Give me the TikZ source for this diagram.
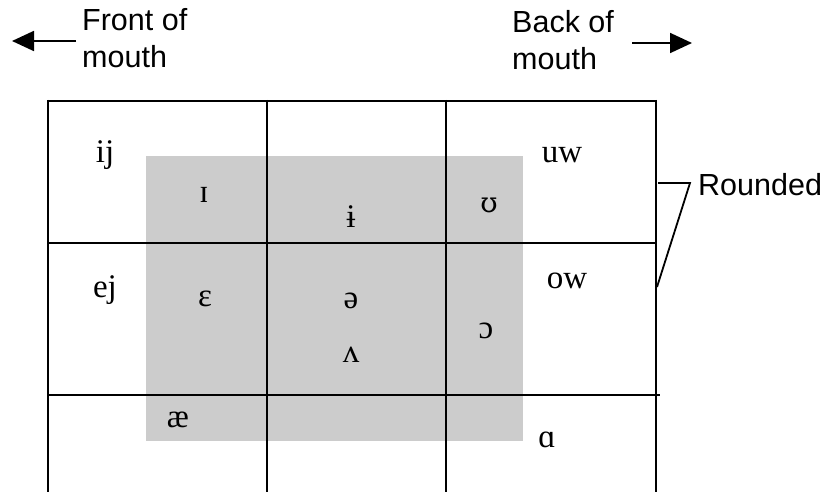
\documentclass[tikz,border=0pt]{standalone}
\usepackage{fontspec}
\setmainfont{Liberation Serif}
\newfontfamily\arialfont{Liberation Sans}
\newfontfamily\ipafont{DejaVu Serif}
\usetikzlibrary{arrows.meta}
\begin{document}
\begin{tikzpicture}[x=1pt,y=-1pt,
  gridline/.style={line width=1.8pt},
  vowel/.style={anchor=base,inner sep=0pt,font=\fontsize{33}{40}\selectfont},
  label/.style={anchor=base west,inner sep=0pt,align=left,font=\arialfont\fontsize{30.5}{37}\selectfont},
  dirarrow/.style={line width=1.8pt,-{Triangle[length=22pt,width=20pt]}},
  bracket/.style={line width=1.8pt}]
\useasboundingbox (0,0) rectangle (828,492);
% shaded region
\fill[black!20] (146,156) rectangle (523,441);
% grid
\draw[gridline] (48,101) -- (656,101);
\draw[gridline] (48,243) -- (656,243);
\draw[gridline] (48,395) -- (660,395);
\draw[gridline] (48,100) -- (48,492);
\draw[gridline] (267,100) -- (267,492);
\draw[gridline] (446,100) -- (446,492);
\draw[gridline] (656,100) -- (656,492);
% vowels
\node[vowel] (ij) at (105,163) {ij};
\node[vowel] (smallI) at (204,203) {ɪ};
\node[vowel] (barI) at (351,227) {ɨ};
\node[vowel,font=\ipafont\fontsize{28}{34}\selectfont] (upsilon) at (489,213) {ʊ};
\node[vowel] (uw) at (562,163) {uw};
\node[vowel] (ej) at (105,297) {ej};
\node[vowel] (epsilon) at (205,306) {ɛ};
\node[vowel] (schwa) at (351,308) {ə};
\node[vowel] (wedge) at (351,362) {ʌ};
\node[vowel] (openo) at (486,338) {ɔ};
\node[vowel] (ow) at (567,288) {ow};
\node[vowel] (ae) at (178,427) {æ};
\node[vowel] (alpha) at (547,447) {ɑ};
% direction labels (base anchor sits on the last line)
\node[label] (front) at (82,68) {Front of\\mouth};
\node[label] (back) at (512,70) {Back of\\mouth};
\coordinate (fstart) at (76,41);
\coordinate (fend) at (12,41);
\coordinate (bstart) at (632,43);
\coordinate (bend) at (692,43);
\draw[dirarrow] (fstart) -- (fend);
\draw[dirarrow] (bstart) -- (bend);
% rounded bracket
\node[label] (rounded) at (698,196) {Rounded};
\coordinate (ra) at (658,183);
\coordinate (rb) at (690,183);
\coordinate (rc) at (657,287);
\draw[bracket] (ra) -- (rb) -- (rc);
\end{tikzpicture}
\end{document}
